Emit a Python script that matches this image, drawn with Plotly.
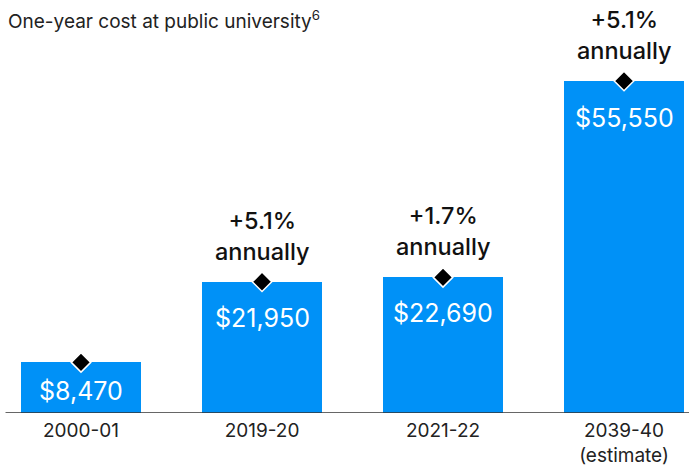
import plotly.graph_objects as go

categories = ["2000-01", "2019-20", "2021-22", "2039-40<br>(estimate)"]
costs = [8470, 21950, 22690, 55550]
value_labels = ["$8,470", "$21,950", "$22,690", "$55,550"]
growth_labels = ["", "+5.1%<br>annually", "+1.7%<br>annually", "+5.1%<br>annually"]

xs = list(range(len(categories)))
FONT = "Inter, Roboto, sans-serif"
BLUE = "#0091F7"
label_shifts = [-29, -36, -36, -37]

fig = go.Figure()
fig.add_trace(go.Bar(
    x=xs, y=costs, width=0.663, marker=dict(color=BLUE, line=dict(width=0)),
    hoverinfo="skip", showlegend=False,
))
fig.add_trace(go.Scatter(
    x=xs, y=costs, mode="markers",
    marker=dict(symbol="diamond", size=15, color="black", line=dict(color="white", width=1.5)),
    hoverinfo="skip", showlegend=False, cliponaxis=False,
))

for i, (v, lab, g) in enumerate(zip(costs, value_labels, growth_labels)):
    fig.add_annotation(x=i, y=v, text=lab, showarrow=False, yanchor="middle",
                       yshift=label_shifts[i], font=dict(family=FONT, size=25, color="white"))
    if g:
        fig.add_annotation(x=i, y=v, text=g, showarrow=False, yanchor="bottom",
                           yshift=14, font=dict(family=FONT, size=23.5, color="#111111", weight=500))

fig.add_annotation(xref="paper", yref="paper", x=0.008, y=1, xanchor="left", yanchor="top",
                   text="One-year cost at public university<sup>6</sup>", showarrow=False,
                   yshift=-5, font=dict(family=FONT, size=19, color="#222222"))

fig.add_shape(type="line", xref="paper", yref="y", x0=0.008, x1=1, y0=0, y1=0,
              line=dict(color="#333333", width=1.5))

fig.update_layout(
    width=689, height=468,
    margin=dict(l=0, r=0, t=0, b=55),
    plot_bgcolor="white", paper_bgcolor="white",
    xaxis=dict(range=[-0.4475, 3.359], tickmode="array", tickvals=xs, ticktext=categories,
               showgrid=False, zeroline=False, showline=False, ticks="", ticklabelstandoff=4,
               automargin=False,
               tickfont=dict(family=FONT, size=19, color="#222222")),
    yaxis=dict(range=[0, 69100], visible=False, showgrid=False, zeroline=False, automargin=False),
    bargap=0,
)

fig.write_html("out.html")
